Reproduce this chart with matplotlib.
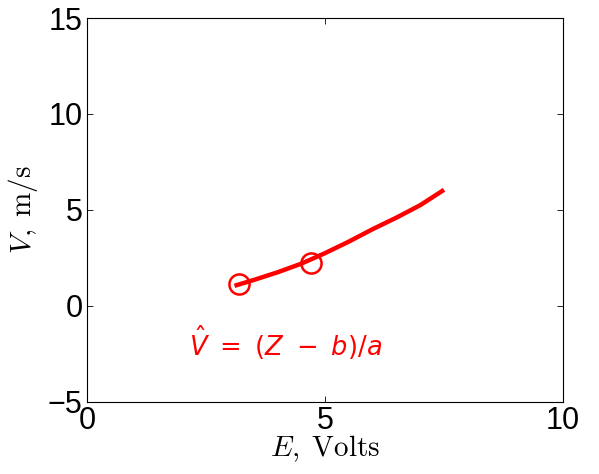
import matplotlib
matplotlib.use("Agg")
import matplotlib.pyplot as plt

# predicted speed curve V(E) and the two calibration points
e_curve = [3.1, 3.5, 4.0, 4.5, 5.0, 5.5, 6.0, 6.5, 7.0, 7.5]
v_curve = [1.05, 1.35, 1.75, 2.2, 2.75, 3.35, 4.0, 4.6, 5.25, 6.05]
e_points = [3.2, 4.7]
v_points = [1.15, 2.25]

x_ticks = [0, 5, 10]
y_ticks = [-5, 0, 5, 10, 15]

plt.rcParams['mathtext.fontset'] = 'cm'

fig = plt.figure(figsize=(5.99, 4.74), dpi=100)
ax = fig.add_axes([0.145, 0.152, 0.795, 0.81])

ax.plot(e_curve, v_curve, color='red', lw=3.2, solid_capstyle='butt')
ax.plot(e_points, v_points, 'o', mfc='none', mec='red', ms=14.5, mew=1.8)

ax.text(2.15, -1.9, r'$\hat{V}\ =\ (Z\ -\ b)/a$', color='red', fontsize=18.5,
        va='center', math_fontfamily='dejavusans')

ax.set_xlim(0, 10)
ax.set_ylim(-5, 15)
ax.set_xticks(x_ticks)
ax.set_yticks(y_ticks)
ax.tick_params(direction='in', length=4, width=0.6, top=True, right=True,
               labelsize=22, pad=3)
for lab in ax.get_xticklabels() + ax.get_yticklabels():
    lab.set_fontfamily('Liberation Sans')
for s in ax.spines.values():
    s.set_linewidth(0.8)

ax.set_xlabel(r'$E,\;\mathrm{Volts}$', fontsize=21, labelpad=-2)
ax.set_ylabel(r'$V,\;\mathrm{m/s}$', fontsize=21, labelpad=6)

fig.savefig('out.png', dpi=100)
